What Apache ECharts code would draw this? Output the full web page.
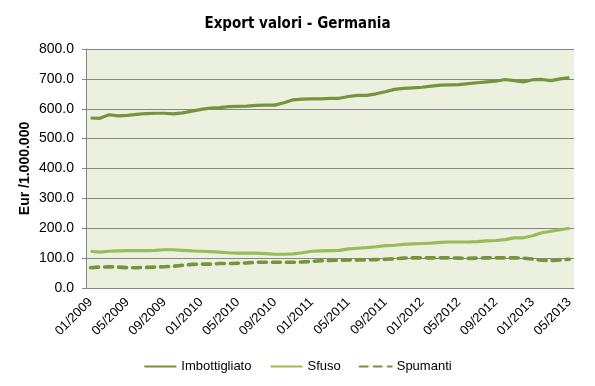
<!DOCTYPE html>
<html>
<head>
<meta charset="utf-8">
<script src="https://cdn.jsdelivr.net/npm/echarts@6/dist/echarts.min.js"></script>
<style>
html,body{margin:0;padding:0;background:#fff;}
#c{width:595px;height:386px;}
</style>
</head>
<body>
<div id="c"></div>
<script>
var months = [
"01/2009","02/2009","03/2009","04/2009","05/2009","06/2009","07/2009","08/2009","09/2009","10/2009","11/2009","12/2009",
"01/2010","02/2010","03/2010","04/2010","05/2010","06/2010","07/2010","08/2010","09/2010","10/2010","11/2010","12/2010",
"01/2011","02/2011","03/2011","04/2011","05/2011","06/2011","07/2011","08/2011","09/2011","10/2011","11/2011","12/2011",
"01/2012","02/2012","03/2012","04/2012","05/2012","06/2012","07/2012","08/2012","09/2012","10/2012","11/2012","12/2012",
"01/2013","02/2013","03/2013","04/2013","05/2013"];

var imbottigliato = [569,568,580,576,578,581,584,585,585,583,586,592,598,602,604,607,608,609,611,612,612,620,630,632,633,633,635,635,641,645,645,650,657,665,668,670,672,676,679,680,681,684,687,690,692,698,694,690,697,698,694,700,704];

var sfuso = [123,120,123,124,125,125,125,126,128,128,126,124,123,122,120,118,117,117,117,115,113,113,114,118,123,124,125,126,131,133,135,138,142,143,146,148,149,150,153,154,154,154,155,158,159,162,168,168,175,185,190,195,200];

var spumanti = [68,70,71,70,68,68,69,70,71,73,76,79,80,80,82,82,83,84,86,86,86,86,86,87,89,91,92,93,94,94,94,95,96,98,100,101,101,101,101,101,100,99,100,101,101,101,101,100,97,93,92,94,96];

var seriesNames = ["Imbottigliato","Sfuso","Spumanti"];
var yTicks = {min:0, max:800, interval:100};

var chart = echarts.init(document.getElementById('c'), null, {renderer:'canvas'});
var dark = '#77933C', light = '#9BBB59', gridCol = '#868686';
var sans = '"Liberation Sans",Arial,sans-serif';
chart.setOption({
  animation:false,
  backgroundColor:'#ffffff',
  title:{
    text:'Export valori - Germania',
    left:'center', top:12,
    textStyle:{fontFamily:'"Liberation Sans Narrow","DejaVu Sans Condensed",sans-serif', fontWeight:'bold', fontSize:15, color:'#000'}
  },
  grid:{left:86, right:21, top:49, bottom:98, show:true, backgroundColor:'#EBF1DE', borderWidth:0},
  legend:{
    bottom:8, left:'center', itemWidth:32, itemHeight:10, itemGap:18,
    itemStyle:{opacity:0},
    textStyle:{fontFamily:sans, fontSize:13, color:'#000'},
    data:seriesNames
  },
  xAxis:{
    type:'category', boundaryGap:true, data:months,
    axisLine:{show:true, lineStyle:{color:gridCol, width:1}},
    axisTick:{show:false},
    axisLabel:{interval:3, rotate:45, margin:12, color:'#000', fontSize:13, fontFamily:sans}
  },
  yAxis:{
    type:'value', min:yTicks.min, max:yTicks.max, interval:yTicks.interval,
    name:'Eur /1.000.000', nameLocation:'middle', nameGap:54, nameRotate:90, nameMoveOverlap:false,
    nameTextStyle:{fontFamily:sans, fontWeight:'bold', fontSize:14, color:'#000'},
    axisLine:{show:true, lineStyle:{color:gridCol, width:1}},
    axisTick:{show:true, length:4, lineStyle:{color:gridCol}},
    axisLabel:{margin:12, color:'#000', fontSize:14, fontFamily:sans, formatter:function(v){return v.toFixed(1);}},
    splitLine:{show:true, lineStyle:{color:gridCol, width:1}}
  },
  series:[
    {name:seriesNames[0], type:'line', data:imbottigliato, symbol:'none', smooth:false,
     lineStyle:{color:dark, width:3.2}, itemStyle:{color:dark}},
    {name:seriesNames[1], type:'line', data:sfuso, symbol:'none',
     lineStyle:{color:light, width:3.2}, itemStyle:{color:light}},
    {name:seriesNames[2], type:'line', data:spumanti, symbol:'none',
     lineStyle:{color:dark, width:3.6, type:[8,6], cap:'round'}, itemStyle:{color:dark}}
  ]
});
</script>
</body>
</html>
